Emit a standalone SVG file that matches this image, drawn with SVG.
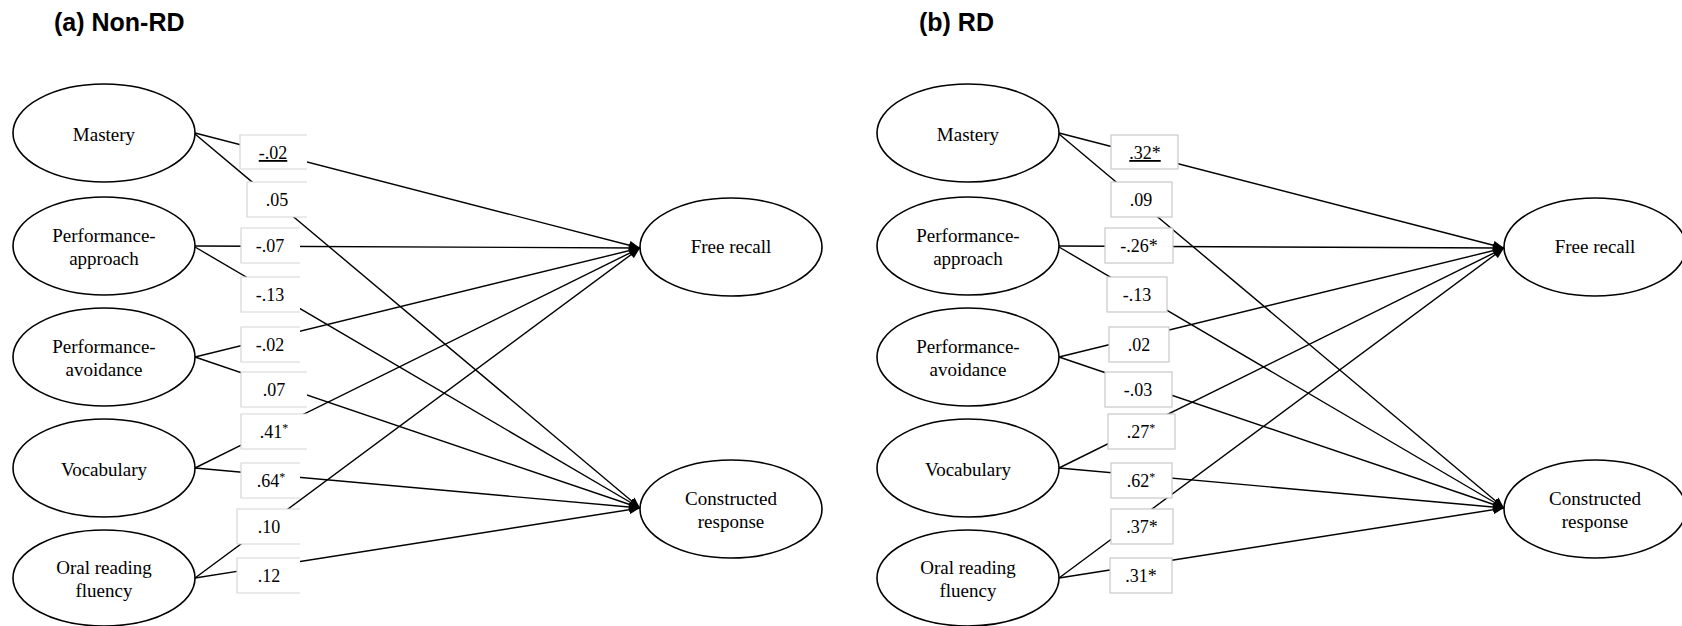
<svg xmlns="http://www.w3.org/2000/svg" width="1682" height="626" viewBox="0 0 1682 626">
<style>
.title{font-family:"Liberation Sans",Arial,sans-serif;font-weight:bold;font-size:25px;fill:#000}
.node ellipse{fill:#fff;stroke:#000;stroke-width:1.6}
.serif{font-family:'Liberation Serif','Times New Roman','DejaVu Serif',serif}
.node text{font-size:19px;fill:#000;text-anchor:middle}
.conn line{stroke:#000;stroke-width:1.4;marker-end:url(#arr)}
.lbl rect{fill:#fff;stroke:none}
.lbl path{fill:none;stroke:#d6d6d6;stroke-width:1.2}
.lblb rect{fill:#fff;stroke:#c9c9c9;stroke-width:1.2}
.lbl text,.lblb text{font-size:18px;fill:#000;text-anchor:middle}
.sup{font-size:12px}
</style>
<defs>
<marker id="arr" markerUnits="userSpaceOnUse" markerWidth="12" markerHeight="10" refX="11" refY="4.5" orient="auto">
<path d="M0,0 L11,4.5 L0,9 z" fill="#000"/>
</marker>
</defs>
<rect width="1682" height="626" fill="#fff"/>
<text class="title" x="54" y="31">(a) Non-RD</text>
<text class="title" x="919" y="31">(b) RD</text>

<g id="connectors-a" class="conn">
<line x1="195" y1="133" x2="640" y2="248"/>
<line x1="195" y1="134" x2="640" y2="508"/>
<line x1="195" y1="246" x2="640" y2="248"/>
<line x1="195" y1="247" x2="640" y2="508"/>
<line x1="195" y1="357" x2="640" y2="248"/>
<line x1="195" y1="357" x2="640" y2="508"/>
<line x1="195" y1="468" x2="640" y2="248"/>
<line x1="195" y1="468" x2="640" y2="508"/>
<line x1="195" y1="578" x2="640" y2="248"/>
<line x1="195" y1="578" x2="640" y2="508"/>
</g>
<g id="connectors-b" class="conn">
<line x1="1059" y1="133" x2="1504" y2="248"/>
<line x1="1059" y1="134" x2="1504" y2="508"/>
<line x1="1059" y1="246" x2="1504" y2="248"/>
<line x1="1059" y1="247" x2="1504" y2="508"/>
<line x1="1059" y1="357" x2="1504" y2="248"/>
<line x1="1059" y1="357" x2="1504" y2="508"/>
<line x1="1059" y1="468" x2="1504" y2="248"/>
<line x1="1059" y1="468" x2="1504" y2="508"/>
<line x1="1059" y1="578" x2="1504" y2="248"/>
<line x1="1059" y1="578" x2="1504" y2="508"/>
</g>

<g id="labels-a" class="lbl serif" font-family="Liberation Serif, Times New Roman, DejaVu Serif, serif">
<g><rect x="240" y="135" width="67" height="34"/><path d="M307,135 H240 V169 H307"/><text x="273" y="159" text-decoration="underline">-.02</text></g>
<g><rect x="247" y="182" width="60" height="35"/><path d="M307,182 H247 V217 H307"/><text x="277" y="206">.05</text></g>
<g><rect x="241" y="228" width="59" height="35"/><path d="M300,228 H241 V263 H300"/><text x="270" y="252">-.07</text></g>
<g><rect x="241" y="277" width="59" height="35"/><path d="M300,277 H241 V312 H300"/><text x="270" y="301">-.13</text></g>
<g><rect x="241" y="327" width="59" height="35"/><path d="M300,327 H241 V362 H300"/><text x="270" y="351">-.02</text></g>
<g><rect x="241" y="372" width="66" height="35"/><path d="M307,372 H241 V407 H307"/><text x="274" y="396">.07</text></g>
<g><rect x="241" y="414" width="66" height="35"/><path d="M307,414 H241 V449 H307"/><text x="274" y="438">.41<tspan class="sup" dy="-6">*</tspan></text></g>
<g><rect x="241" y="463" width="59" height="35"/><path d="M300,463 H241 V498 H300"/><text x="271" y="487">.64<tspan class="sup" dy="-6">*</tspan></text></g>
<g><rect x="237" y="509" width="63" height="35"/><path d="M300,509 H237 V544 H300"/><text x="269" y="533">.10</text></g>
<g><rect x="237" y="558" width="63" height="35"/><path d="M300,558 H237 V593 H300"/><text x="269" y="582">.12</text></g>
</g>

<g id="labels-b" class="lblb serif" font-family="Liberation Serif, Times New Roman, DejaVu Serif, serif">
<g><rect x="1111" y="135" width="67" height="34"/><text x="1145" y="159" text-decoration="underline">.32*</text></g>
<g><rect x="1111" y="182" width="61" height="35"/><text x="1141" y="206">.09</text></g>
<g><rect x="1105" y="228" width="68" height="35"/><text x="1139" y="252">-.26*</text></g>
<g><rect x="1107" y="277" width="60" height="35"/><text x="1137" y="301">-.13</text></g>
<g><rect x="1109" y="327" width="60" height="35"/><text x="1139" y="351">.02</text></g>
<g><rect x="1105" y="372" width="67" height="35"/><text x="1138" y="396">-.03</text></g>
<g><rect x="1108" y="414" width="67" height="35"/><text x="1141" y="438">.27<tspan class="sup" dy="-6">*</tspan></text></g>
<g><rect x="1111" y="463" width="61" height="35"/><text x="1141" y="487">.62<tspan class="sup" dy="-6">*</tspan></text></g>
<g><rect x="1111" y="509" width="62" height="35"/><text x="1142" y="533">.37*</text></g>
<g><rect x="1110" y="558" width="62" height="35"/><text x="1141" y="582">.31*</text></g>
</g>

<g class="serif" font-family="Liberation Serif, Times New Roman, DejaVu Serif, serif">
<g id="a-mastery" class="node"><ellipse cx="104" cy="133" rx="91" ry="49"/><text x="104" y="141">Mastery</text></g>
<g id="a-perf-approach" class="node"><ellipse cx="104" cy="246" rx="91" ry="49"/><text x="104" y="242">Performance-</text><text x="104" y="265">approach</text></g>
<g id="a-perf-avoidance" class="node"><ellipse cx="104" cy="357" rx="91" ry="49"/><text x="104" y="353">Performance-</text><text x="104" y="376">avoidance</text></g>
<g id="a-vocabulary" class="node"><ellipse cx="104" cy="468" rx="91" ry="49"/><text x="104" y="476">Vocabulary</text></g>
<g id="a-orf" class="node"><ellipse cx="104" cy="578" rx="91" ry="48"/><text x="104" y="574">Oral reading</text><text x="104" y="597">fluency</text></g>
<g id="a-free-recall" class="node"><ellipse cx="731" cy="247" rx="91" ry="49"/><text x="731" y="253">Free recall</text></g>
<g id="a-constructed" class="node"><ellipse cx="731" cy="509" rx="91" ry="49"/><text x="731" y="505">Constructed</text><text x="731" y="528">response</text></g>

<g id="b-mastery" class="node"><ellipse cx="968" cy="133" rx="91" ry="49"/><text x="968" y="141">Mastery</text></g>
<g id="b-perf-approach" class="node"><ellipse cx="968" cy="246" rx="91" ry="49"/><text x="968" y="242">Performance-</text><text x="968" y="265">approach</text></g>
<g id="b-perf-avoidance" class="node"><ellipse cx="968" cy="357" rx="91" ry="49"/><text x="968" y="353">Performance-</text><text x="968" y="376">avoidance</text></g>
<g id="b-vocabulary" class="node"><ellipse cx="968" cy="468" rx="91" ry="49"/><text x="968" y="476">Vocabulary</text></g>
<g id="b-orf" class="node"><ellipse cx="968" cy="578" rx="91" ry="48"/><text x="968" y="574">Oral reading</text><text x="968" y="597">fluency</text></g>
<g id="b-free-recall" class="node"><ellipse cx="1595" cy="247" rx="91" ry="49"/><text x="1595" y="253">Free recall</text></g>
<g id="b-constructed" class="node"><ellipse cx="1595" cy="509" rx="91" ry="49"/><text x="1595" y="505">Constructed</text><text x="1595" y="528">response</text></g>
</g>
</svg>
